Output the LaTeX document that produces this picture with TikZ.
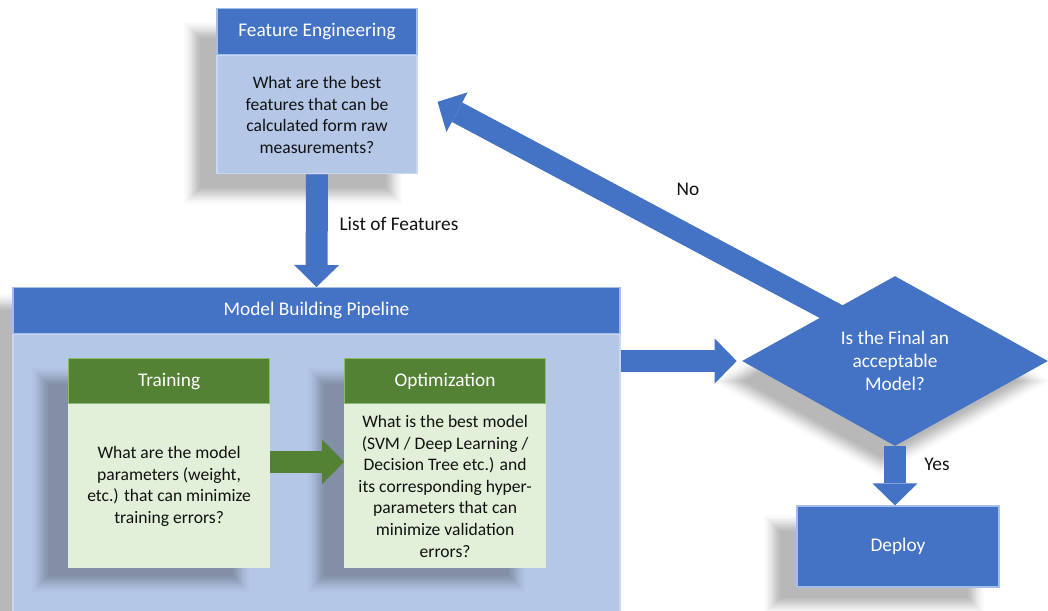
\documentclass[tikz,border=0pt]{standalone}
\usepackage{fontspec}
\setmainfont{Carlito}
\usetikzlibrary{shapes.geometric,arrows.meta,backgrounds,calc}

\definecolor{hdrblue}{HTML}{4472C4}
\definecolor{lightblue}{HTML}{B4C7E7}
\definecolor{edgeblue}{HTML}{A3BEEB}
\definecolor{hdrgreen}{HTML}{548235}
\definecolor{lightgreen}{HTML}{E2F0D9}
\definecolor{edgegreen}{HTML}{8DBA6E}
\definecolor{ink}{HTML}{111111}

% One layer of a soft shadow: corners #1/#2, offset (#3,#4), inset #5, darkness #6, ground #7
\newcommand{\shadowlayer}[7]{%
  \fill[black!#6!#7] ($(#1)+(#3,#4)+(#5,#5)$) rectangle ($(#2)+(#3,#4)-(#5,#5)$);%
}
% Soft drop shadow under a rectangle, built from nested opaque layers
\newcommand{\boxshadow}[5]{%
  \shadowlayer{#1}{#2}{#3}{#4}{-8}{2}{#5}%
  \shadowlayer{#1}{#2}{#3}{#4}{-6}{4}{#5}%
  \shadowlayer{#1}{#2}{#3}{#4}{-4}{7}{#5}%
  \shadowlayer{#1}{#2}{#3}{#4}{-2}{10}{#5}%
  \shadowlayer{#1}{#2}{#3}{#4}{0}{14}{#5}%
  \shadowlayer{#1}{#2}{#3}{#4}{2}{18}{#5}%
  \shadowlayer{#1}{#2}{#3}{#4}{4}{22}{#5}%
  \shadowlayer{#1}{#2}{#3}{#4}{6}{25}{#5}%
  \shadowlayer{#1}{#2}{#3}{#4}{8}{28}{#5}%
}
% One layer of the diamond's shadow: half width #1, half height #2, darkness #3
\newcommand{\diamondlayer}[3]{%
  \fill[black!#3!white] ($(dec.center)+(-14,20)-(#1,0)$) -- ($(dec.center)+(-14,20)-(0,#2)$) --
    ($(dec.center)+(-14,20)+(#1,0)$) -- ($(dec.center)+(-14,20)+(0,#2)$) -- cycle;%
}

\begin{document}
\begin{tikzpicture}[x=0.02cm,y=-0.02cm,
  hdrfont/.style={font=\fontsize{11}{13}\selectfont},
  bodyfont/.style={font=\fontsize{10}{12.3}\selectfont},
  box/.style={rectangle, inner sep=0pt, align=center},
  bluehead/.style={box, fill=hdrblue, draw=edgeblue, line width=0.7pt, text=white, hdrfont},
  bluebody/.style={box, fill=lightblue, draw=edgeblue!60!white, line width=0.7pt, text=ink, bodyfont},
  greenhead/.style={box, fill=hdrgreen, draw=edgegreen, line width=0.7pt, text=white, hdrfont},
  greenbody/.style={box, fill=lightgreen, draw=white!85!hdrgreen, line width=0.7pt, text=ink, bodyfont},
  lbl/.style={inner sep=0pt, text=ink, hdrfont},
  fatarrow/.style={line width=0.44cm,
    -{Triangle[width=0.9cm,length=0.44cm,line width=0pt]}},
]
\useasboundingbox (0,0) rectangle (1048,610);

% Feature engineering box
\node[bluehead, minimum width=4cm, minimum height=0.92cm, anchor=north] (fehead) at (317,8) {Feature Engineering};
\node[bluebody, minimum width=4cm, minimum height=2.36cm, anchor=north] (febody) at (fehead.south)
  {What are the best\\features that can be\\calculated form raw\\measurements?};

% Model building pipeline container
\node[bluehead, minimum width=12.14cm, minimum height=0.92cm, anchor=north] (pipehead) at (316.5,287) {Model Building Pipeline};
\node[bluebody, minimum width=12.14cm, minimum height=5.64cm, anchor=north] (pipebody) at (pipehead.south) {};

% Training and optimisation stages, with their shadows on the container
\coordinate (trainnw) at (68,358);
\coordinate (trainse) at (269,566);
\coordinate (optnw) at (344,358);
\coordinate (optse) at (545,566);
\boxshadow{trainnw}{trainse}{-28}{18}{lightblue}
\boxshadow{optnw}{optse}{-28}{18}{lightblue}

\node[greenhead, minimum width=4.02cm, minimum height=0.9cm, anchor=north west] (trainhead) at (trainnw) {Training};
\node[greenbody, minimum width=4.02cm, minimum height=3.26cm, anchor=north] (trainbody) at (trainhead.south)
  {What are the model\\parameters (weight,\\etc.) that can minimize\\training errors?};

\node[greenhead, minimum width=4.02cm, minimum height=0.9cm, anchor=north west] (opthead) at (optnw) {Optimization};
\node[greenbody, minimum width=4.02cm, minimum height=3.26cm, anchor=north] (optbody) at (opthead.south)
  {What is the best model\\(SVM / Deep Learning /\\Decision Tree etc.) and\\its corresponding hyper-\\parameters that can\\minimize validation\\errors?};

% Decision and deployment
\node[diamond, inner sep=0pt, minimum width=6.12cm, minimum height=3.4cm, fill=hdrblue,
      text=white, align=center, font=\fontsize{11}{13}\selectfont]
  (dec) at (895,361) {Is the Final an\\acceptable\\Model?};

\node[bluehead, minimum width=4.04cm, minimum height=1.62cm] (deploy) at (898,546.5) {Deploy};

% Connectors
\draw[fatarrow, hdrblue] (febody.south) -- (pipehead.north);
\draw[fatarrow, hdrgreen] ([yshift=0.49cm]trainbody.east) -- ([yshift=0.49cm]optbody.west);
\draw[fatarrow, hdrblue] (pipebody.east |- dec.west) -- ([xshift=-0.1cm]dec.west);
\draw[fatarrow, hdrblue] (dec.south) -- (dec.south |- deploy.north);

\begin{scope}[on background layer]
  % drop shadows of the outer shapes
  \boxshadow{fehead.north west}{febody.south east}{-24}{22}{white}
  \boxshadow{pipehead.north west}{pipebody.south east}{-20}{15}{white}
  \boxshadow{deploy.north west}{deploy.south east}{-24}{18}{white}
  \diamondlayer{169}{93.9}{2}
  \diamondlayer{165}{91.7}{4}
  \diamondlayer{161}{89.4}{7}
  \diamondlayer{157}{87.2}{10}
  \diamondlayer{153}{85}{14}
  \diamondlayer{149}{82.8}{18}
  \diamondlayer{145}{80.6}{22}
  \diamondlayer{141}{78.3}{25}
  \diamondlayer{137}{76.1}{28}
  % feedback arrow, passing under the decision diamond
  \coordinate (nostart) at ($(dec.center)+(-35,-34)$);
  \coordinate (notip) at ($(febody.east)+(20,-13)$);
  \draw[fatarrow, hdrblue] (nostart) -- (notip);
\end{scope}

% Labels
\node[lbl] (lof) at (399,224) {List of Features};
\node[lbl] (nolbl) at (688,189) {No};
\node[lbl] (yeslbl) at (937,464) {Yes};
\end{tikzpicture}
\end{document}
